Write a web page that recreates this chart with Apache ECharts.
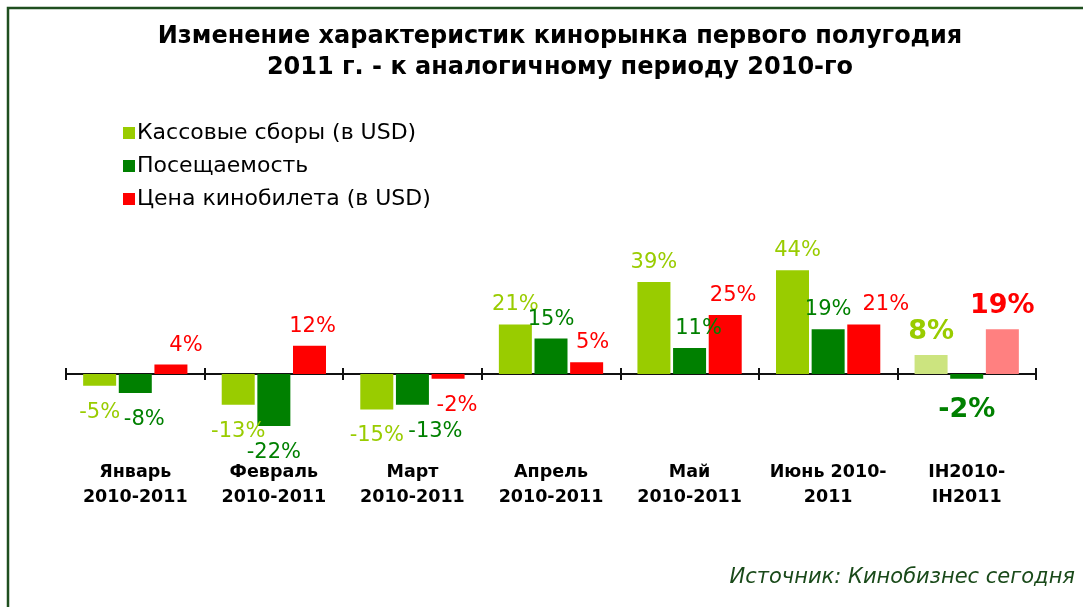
<!DOCTYPE html>
<html>
<head>
<meta charset="utf-8">
<script src="https://cdn.jsdelivr.net/npm/echarts@6/dist/echarts.min.js"></script>
<style>
html,body{margin:0;padding:0;background:#fff;}
#chart{width:1083px;height:607px;}
</style>
</head>
<body>
<div id="chart"></div>
<script>
// ---- data ----
const categories = ['Январь\n2010-2011', 'Февраль\n2010-2011', 'Март\n2010-2011', 'Апрель\n2010-2011', 'Май\n2010-2011', 'Июнь 2010-\n2011', 'IH2010-\nIH2011'];
const seriesNames = ['Кассовые сборы (в USD)', 'Посещаемость', 'Цена кинобилета (в USD)'];
const boxOffice = [-5, -13, -15, 21, 39, 44, 8];
const attendance = [-8, -22, -13, 15, 11, 19, -2];
const ticketPrice = [4, 12, -2, 5, 25, 21, 19];
const titleLines = ['Изменение характеристик кинорынка первого полугодия', '2011 г. - к аналогичному периоду 2010-го'];
const sourceText = 'Источник: Кинобизнес сегодня';

// ---- styling ----
const colors = ['#99cc00', '#008000', '#ff0000'];
const summaryColors = ['#cce47f', '#008000', '#ff8080'];
const FONT = 'DejaVu Sans';
// horizontal label nudges (px) per series per category, mimicking the original placement
const labelNudge = [
  [0, 0, 0, 0, 0, 5, 0],
  [9, 0, 23, 0, 9, 0, 0],
  [15, 3, 9, 6, 8, 22, 0]
];

function buildData(values, si) {
  const last = values.length - 1;
  return values.map((v, i) => {
    const item = {
      value: v,
      label: {
        position: v < 0 ? 'bottom' : 'top',
        distance: v < 0 ? 16 : 9,
        offset: [labelNudge[si][i], 0]
      }
    };
    if (i === last) {
      item.itemStyle = { color: summaryColors[si] };
      item.label.fontSize = 27;
      item.label.fontWeight = 'bold';
      item.label.distance = v < 0 ? 18 : 10;
    }
    return item;
  });
}

const seriesValues = [boxOffice, attendance, ticketPrice];

const gridBox = { left: 66, right: 47, top: 256, bottom: 162.2, containLabel: false };
const axisColor = '#111';

const chart = echarts.init(document.getElementById('chart'), null, { renderer: 'canvas' });
chart.setOption({
  animation: false,
  backgroundColor: '#ffffff',
  grid: [Object.assign({}, gridBox), Object.assign({}, gridBox)],
  legend: {
    orient: 'vertical',
    left: 118,
    top: 117,
    itemWidth: 12,
    itemHeight: 12,
    itemGap: 11,
    icon: 'rect',
    data: seriesNames,
    textStyle: { fontFamily: FONT, fontSize: 22, color: '#000', padding: [0, 0, 0, -3] }
  },
  xAxis: [
    {
      type: 'category',
      gridIndex: 0,
      data: categories,
      position: 'bottom',
      axisLine: { onZero: true, lineStyle: { color: axisColor, width: 2 } },
      axisTick: { show: true, length: 6, lineStyle: { color: axisColor, width: 2 } },
      axisLabel: {
        interval: 0,
        margin: 15,
        fontFamily: FONT,
        fontSize: 17.5,
        fontWeight: 'bold',
        color: '#000',
        lineHeight: 25
      }
    },
    {
      type: 'category',
      gridIndex: 1,
      data: categories,
      position: 'bottom',
      axisLine: { show: false, onZero: true },
      axisTick: { show: true, inside: true, length: 6, lineStyle: { color: axisColor, width: 2 } },
      axisLabel: { show: false }
    }
  ],
  yAxis: [
    { type: 'value', gridIndex: 0, min: -30, max: 50, interval: 10, show: false, splitLine: { show: false } },
    { type: 'value', gridIndex: 1, min: -30, max: 50, interval: 10, show: false, splitLine: { show: false } }
  ],
  series: seriesNames.map((name, si) => ({
    name: name,
    type: 'bar',
    xAxisIndex: 0,
    yAxisIndex: 0,
    barWidth: 33,
    barGap: '8%',
    itemStyle: { color: colors[si] },
    label: {
      show: true,
      formatter: p => p.value + '%',
      fontFamily: FONT,
      fontSize: 21,
      color: colors[si]
    },
    data: buildData(seriesValues[si], si)
  })),
  graphic: [
    {
      type: 'rect',
      shape: { x: 8, y: 8, width: 1100, height: 700 },
      style: { fill: 'none', stroke: '#1f4f1f', lineWidth: 2.5 },
      silent: true
    },
    {
      type: 'text',
      x: 560, y: 37,
      style: { text: titleLines[0], font: 'bold 24px "DejaVu Sans"', fill: '#000', textAlign: 'center', textVerticalAlign: 'middle' }
    },
    {
      type: 'text',
      x: 560, y: 68,
      style: { text: titleLines[1], font: 'bold 24px "DejaVu Sans"', fill: '#000', textAlign: 'center', textVerticalAlign: 'middle' }
    },
    {
      type: 'text',
      x: 1075, y: 578,
      style: { text: sourceText, font: 'italic 21px "DejaVu Sans"', fill: '#1a4a1a', textAlign: 'right', textVerticalAlign: 'middle' }
    }
  ]
});
</script>
</body>
</html>
